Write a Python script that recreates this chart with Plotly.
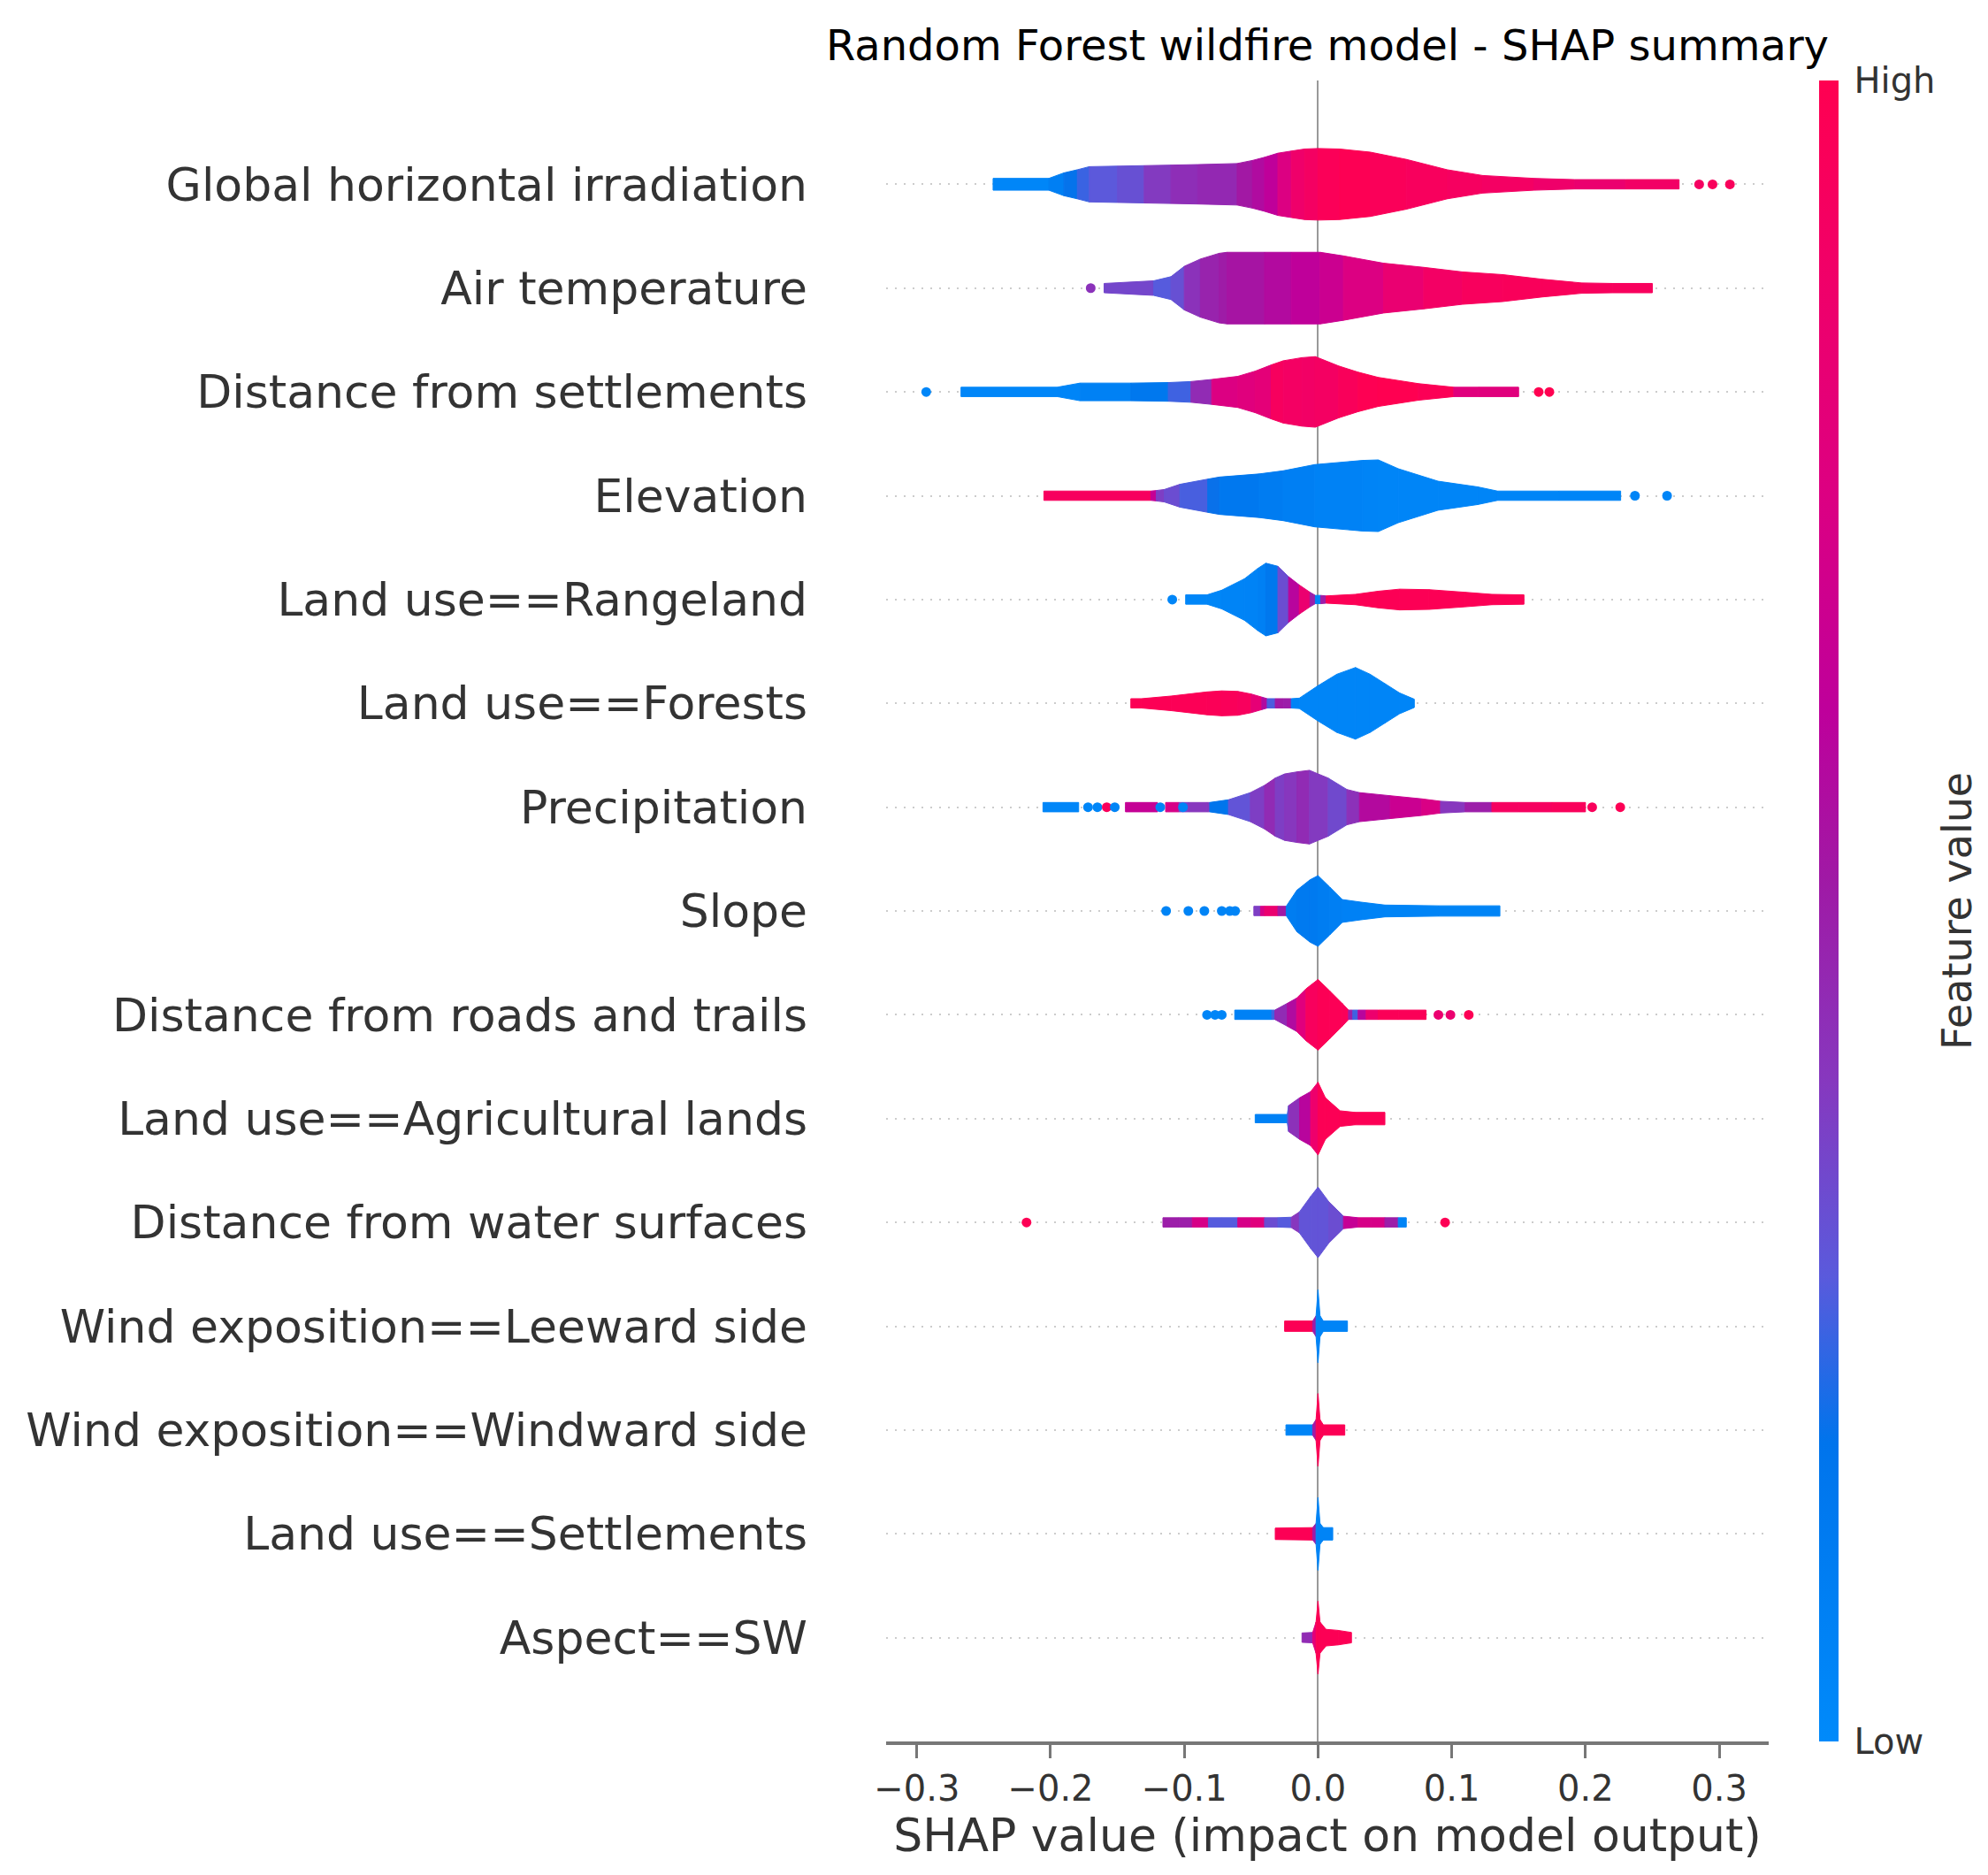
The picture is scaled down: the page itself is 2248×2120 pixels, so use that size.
import plotly.graph_objects as go
from plotly.colors import sample_colorscale

# feature names, top to bottom
features = [
    "Global horizontal irradiation",
    "Air temperature",
    "Distance from settlements",
    "Elevation",
    "Land use==Rangeland",
    "Land use==Forests",
    "Precipitation",
    "Slope",
    "Distance from roads and trails",
    "Land use==Agricultural lands",
    "Distance from water surfaces",
    "Wind exposition==Leeward side",
    "Wind exposition==Windward side",
    "Land use==Settlements",
    "Aspect==SW",
]

# violin outline: SHAP value, half height (row units), feature value (0 low .. 1 high)
violin_x = [
    [-0.243, -0.2013, -0.19, -0.18, -0.171, -0.15, -0.13, -0.11, -0.09, -0.0605, -0.049, -0.04, -0.03, -0.02, -0.01, 0.0, 0.016, 0.039, 0.066, 0.0966, 0.123, 0.1615, 0.192, 0.23, 0.27],
    [-0.16, -0.123, -0.11, -0.1, -0.088, -0.074, -0.068, -0.04, -0.02, 0.0016, 0.019, 0.049, 0.079, 0.108, 0.138, 0.168, 0.197, 0.22, 0.25],
    [-0.267, -0.195, -0.193, -0.178, -0.14, -0.112, -0.095, -0.0795, -0.06, -0.047, -0.035, -0.026, -0.012, -0.002, 0.0154, 0.03, 0.045, 0.075, 0.1015, 0.12, 0.15],
    [-0.205, -0.125, -0.121, -0.115, -0.1033, -0.0825, -0.0736, -0.0439, -0.0261, -0.0024, 0.0333, 0.0451, 0.06, 0.0897, 0.1194, 0.1342, 0.18, 0.2263],
    [-0.099, -0.083, -0.072, -0.055, -0.045, -0.039, -0.03, -0.022, -0.014, -0.006, -0.002, 0.002, 0.006, 0.028, 0.045, 0.061, 0.083, 0.11, 0.13, 0.154],
    [-0.14, -0.132, -0.11, -0.083, -0.072, -0.06, -0.05, -0.042, -0.038, -0.032, -0.026, -0.02, -0.014, 0.0, 0.014, 0.028, 0.039, 0.05, 0.061, 0.072],
    [-0.2057, -0.179, -0.178, -0.145, -0.144, -0.12, -0.119, -0.115, -0.114, -0.104, -0.097, -0.083, -0.081, -0.067, -0.0506, -0.04, -0.032, -0.025, -0.0158, -0.0064, 0.0076, 0.0216, 0.031, 0.054, 0.0776, 0.0916, 0.11, 0.13, 0.15, 0.175, 0.2],
    [-0.048, -0.043, -0.04, -0.03, -0.0238, -0.0158, -0.006, 0.0, 0.0088, 0.0181, 0.0321, 0.05, 0.09, 0.136],
    [-0.0623, -0.0346, -0.0323, -0.023, -0.016, -0.009, 0.0, 0.0088, 0.0181, 0.0228, 0.026, 0.03, 0.036, 0.045, 0.06, 0.0808],
    [-0.047, -0.023, -0.022, -0.0138, -0.0055, 0.0, 0.0055, 0.0165, 0.0275, 0.05],
    [-0.116, -0.104, -0.094, -0.082, -0.072, -0.06, -0.05, -0.04, -0.03, -0.02, -0.014, -0.0055, 0.0, 0.008, 0.019, 0.03, 0.04, 0.05, 0.06, 0.066],
    [-0.025, -0.004, -0.0015, 0.0, 0.0015, 0.004, 0.022],
    [-0.024, -0.004, -0.0015, 0.0, 0.0015, 0.004, 0.02],
    [-0.032, -0.004, -0.0015, 0.0, 0.0015, 0.004, 0.011],
    [-0.012, -0.004, -0.0015, 0.0, 0.0015, 0.006, 0.015, 0.025],
]
violin_w = [
    [0.057, 0.057, 0.11, 0.14, 0.17, 0.175, 0.18, 0.185, 0.19, 0.2, 0.23, 0.26, 0.3, 0.32, 0.34, 0.345, 0.34, 0.31, 0.24, 0.14, 0.085, 0.057, 0.045, 0.045, 0.045],
    [0.045, 0.07, 0.11, 0.21, 0.28, 0.335, 0.345, 0.345, 0.345, 0.345, 0.31, 0.24, 0.2, 0.156, 0.13, 0.085, 0.05, 0.045, 0.045],
    [0.045, 0.045, 0.05, 0.085, 0.085, 0.09, 0.1, 0.12, 0.15, 0.2, 0.26, 0.3, 0.33, 0.34, 0.25, 0.19, 0.14, 0.08, 0.045, 0.045, 0.045],
    [0.045, 0.045, 0.05, 0.06, 0.11, 0.16, 0.18, 0.21, 0.24, 0.3, 0.34, 0.345, 0.26, 0.14, 0.085, 0.045, 0.045, 0.045],
    [0.045, 0.045, 0.09, 0.2, 0.3, 0.35, 0.32, 0.22, 0.14, 0.07, 0.04, 0.04, 0.035, 0.05, 0.08, 0.1, 0.095, 0.07, 0.05, 0.045],
    [0.045, 0.045, 0.07, 0.11, 0.12, 0.115, 0.09, 0.06, 0.045, 0.045, 0.045, 0.045, 0.05, 0.17, 0.28, 0.345, 0.28, 0.19, 0.1, 0.04],
    [0.045, 0.045, 0, 0, 0.045, 0.045, 0, 0, 0.045, 0.045, 0.045, 0.045, 0.045, 0.071, 0.14, 0.21, 0.28, 0.32, 0.34, 0.355, 0.28, 0.17, 0.14, 0.11, 0.08, 0.057, 0.045, 0.045, 0.045, 0.045, 0.045],
    [0.045, 0.045, 0.045, 0.045, 0.045, 0.2, 0.3, 0.34, 0.23, 0.11, 0.085, 0.057, 0.05, 0.05],
    [0.045, 0.045, 0.045, 0.11, 0.16, 0.25, 0.34, 0.23, 0.11, 0.045, 0.045, 0.045, 0.045, 0.045, 0.045, 0.045],
    [0.04, 0.04, 0.125, 0.2, 0.26, 0.35, 0.2, 0.075, 0.06, 0.06],
    [0.045, 0.045, 0.045, 0.045, 0.045, 0.045, 0.045, 0.045, 0.045, 0.05, 0.1, 0.25, 0.34, 0.2, 0.06, 0.045, 0.045, 0.045, 0.045, 0.045],
    [0.05, 0.05, 0.1, 0.35, 0.1, 0.05, 0.05],
    [0.05, 0.05, 0.1, 0.35, 0.1, 0.05, 0.05],
    [0.055, 0.06, 0.1, 0.35, 0.1, 0.06, 0.06],
    [0.045, 0.05, 0.15, 0.35, 0.15, 0.08, 0.07, 0.05],
]
violin_c = [
    [0.03, 0.03, 0.15, 0.22, 0.27, 0.3, 0.33, 0.45, 0.42, 0.5, 0.55, 0.6, 0.65, 0.85, 0.9, 0.93, 1.0, 0.97, 0.95, 0.93, 0.92, 0.9, 0.85, 0.85, 0.95],
    [0.4, 0.3, 0.25, 0.38, 0.46, 0.5, 0.52, 0.56, 0.6, 0.65, 0.7, 0.8, 0.88, 0.93, 0.95, 0.96, 0.95, 0.93, 0.95],
    [0.03, 0.03, 0.03, 0.05, 0.1, 0.2, 0.3, 0.6, 0.9, 0.65, 0.95, 0.92, 0.9, 0.9, 0.93, 0.98, 1.0, 1.0, 0.95, 0.6, 0.95],
    [0.97, 0.9, 0.4, 0.35, 0.3, 0.22, 0.16, 0.13, 0.1, 0.08, 0.05, 0.04, 0.04, 0.04, 0.04, 0.04, 0.04, 0.04],
    [0.03, 0.03, 0.04, 0.05, 0.06, 0.1, 0.2, 0.45, 0.75, 0.95, 0.05, 0.05, 0.97, 0.98, 0.98, 0.98, 0.98, 0.98, 0.98, 0.98],
    [0.98, 0.98, 0.98, 0.97, 0.97, 0.95, 0.93, 0.7, 0.45, 0.08, 0.95, 0.05, 0.04, 0.04, 0.04, 0.04, 0.04, 0.04, 0.04, 0.04],
    [0.03, 0.03, 0, 0, 0.7, 0.6, 0, 0, 0.75, 0.7, 0.05, 0.75, 0.05, 0.3, 0.3, 0.45, 0.45, 0.3, 0.5, 0.4, 0.38, 0.3, 0.55, 0.62, 0.72, 0.75, 0.05, 0.95, 0.9, 0.95, 0.95],
    [0.05, 0.7, 0.75, 0.95, 0.1, 0.12, 0.15, 0.12, 0.1, 0.08, 0.06, 0.05, 0.05, 0.05],
    [0.04, 0.1, 0.4, 0.5, 0.65, 0.9, 0.98, 0.98, 0.97, 0.95, 0.05, 0.45, 0.75, 0.97, 0.97, 0.97],
    [0.04, 0.1, 0.4, 0.45, 0.75, 0.98, 0.98, 0.98, 0.98, 0.98],
    [0.95, 0.05, 0.95, 0.5, 0.05, 0.5, 0.95, 0.6, 0.05, 0.5, 0.3, 0.3, 0.3, 0.3, 0.35, 0.95, 0.5, 0.95, 0.05, 0.05],
    [0.98, 0.98, 0.05, 0.05, 0.05, 0.05, 0.05],
    [0.05, 0.05, 0.98, 0.98, 0.98, 0.98, 0.98],
    [0.98, 0.98, 0.05, 0.05, 0.05, 0.05, 0.05],
    [0.3, 0.6, 0.98, 0.98, 0.98, 0.98, 0.98, 0.98],
]

# single outlying points
dots_x = [
    [0.285, 0.295, 0.308],
    [-0.17],
    [-0.293, 0.165, 0.173],
    [0.237, 0.261],
    [-0.109],
    [],
    [-0.172, -0.165, -0.158, -0.152, -0.118, -0.101, 0.205, 0.226],
    [-0.1136, -0.097, -0.085, -0.072, -0.066, -0.062],
    [-0.083, -0.077, -0.072, 0.09, 0.099, 0.1127],
    [],
    [-0.218, 0.095],
    [], [], [], [],
]
dots_c = [
    [0.92, 0.95, 0.95],
    [0.42],
    [0.03, 1.0, 1.0],
    [0.04, 0.04],
    [0.03],
    [],
    [0.03, 0.03, 0.95, 0.05, 0.05, 0.05, 0.95, 0.98],
    [0.05, 0.05, 0.05, 0.05, 0.05, 0.05],
    [0.04, 0.04, 0.04, 0.85, 0.85, 0.98],
    [],
    [0.98, 0.98],
    [], [], [], [],
]

x_ticks = [-0.3, -0.2, -0.1, 0.0, 0.1, 0.2, 0.3]
x_tick_text = ["\u22120.3", "\u22120.2", "\u22120.1", "0.0", "0.1", "0.2", "0.3"]

# shap red_blue
red_blue = [
    [0.0, "rgb(0,138,250)"],
    [0.18, "rgb(0,116,236)"],
    [0.28, "rgb(90,90,220)"],
    [0.40, "rgb(135,55,190)"],
    [0.52, "rgb(160,25,165)"],
    [0.62, "rgb(190,0,155)"],
    [0.75, "rgb(220,0,130)"],
    [0.88, "rgb(240,0,105)"],
    [1.0, "rgb(255,0,81)"],
]

n = len(features)
fig = go.Figure()

for i, name in enumerate(features):
    row = n - 1 - i
    xs, ws, cs = violin_x[i], violin_w[i], violin_c[i]
    for k in range(len(xs) - 1):
        if ws[k] <= 0 or ws[k + 1] <= 0:
            continue
        col = sample_colorscale(red_blue, [(cs[k] + cs[k + 1]) / 2])[0]
        fig.add_trace(go.Scatter(
            x=[xs[k], xs[k + 1], xs[k + 1], xs[k], xs[k]],
            y=[row + ws[k], row + ws[k + 1], row - ws[k + 1], row - ws[k], row + ws[k]],
            mode="lines", fill="toself", fillcolor=col,
            line=dict(color=col, width=1),
            hoverinfo="skip", showlegend=False,
        ))

# outlying points + colour bar
px, py, pc = [], [], []
for i in range(n):
    for xv, cv in zip(dots_x[i], dots_c[i]):
        px.append(xv)
        py.append(n - 1 - i)
        pc.append(cv)

fig.add_trace(go.Scatter(
    x=px, y=py, mode="markers", showlegend=False, hoverinfo="skip",
    marker=dict(
        size=11, color=pc, colorscale=red_blue, cmin=0, cmax=1, line=dict(width=0),
        showscale=True,
        colorbar=dict(
            x=1.057, xanchor="left", y=0.5, yanchor="middle",
            len=1, lenmode="fraction", thickness=22, outlinewidth=0,
            xpad=0, ypad=0,
            tickvals=[0, 1], ticktext=["Low", "High"],
            ticks="outside", ticklen=10, tickcolor="rgba(0,0,0,0)",
            tickfont=dict(size=40, color="#333333"),
        ),
    ),
))

fig.add_annotation(
    text="Feature value", textangle=-90, showarrow=False,
    xref="paper", yref="paper", x=1.2134, y=0.5,
    xanchor="center", yanchor="middle",
    font=dict(size=46, color="#333333"),
)

# the page body adds an 8px margin, so the figure is 8px smaller
fig.update_layout(
    width=2240, height=2112,
    margin=dict(l=994, r=248, t=83, b=151),
    paper_bgcolor="white", plot_bgcolor="white",
    font=dict(family="DejaVu Sans", color="#333333"),
    title=dict(text="Random Forest wildfire model - SHAP summary",
               x=0.5, xref="paper", xanchor="center",
               y=1 - 43 / 2112, yref="container", yanchor="middle",
               font=dict(size=48, color="#000000")),
    xaxis=dict(
        range=[-0.323, 0.337], tickvals=x_ticks, ticktext=x_tick_text,
        showline=True, linecolor="#777777", linewidth=4,
        ticks="outside", ticklen=15, tickwidth=3, tickcolor="#777777",
        tickfont=dict(size=40, color="#333333"),
        showgrid=False,
        zeroline=True, zerolinecolor="#999999", zerolinewidth=2,
        title=dict(text="SHAP value (impact on model output)",
                   font=dict(size=52, color="#333333"), standoff=14),
    ),
    yaxis=dict(
        range=[-1, n], tickvals=list(range(n)),
        ticktext=[features[n - 1 - r] for r in range(n)],
        tickfont=dict(size=52, color="#333333"),
        ticks="", ticklabelstandoff=88,
        showline=False, zeroline=False,
        showgrid=True, gridcolor="#cccccc", gridwidth=2, griddash="2px,8px",
    ),
)

fig.write_html("out.html")
